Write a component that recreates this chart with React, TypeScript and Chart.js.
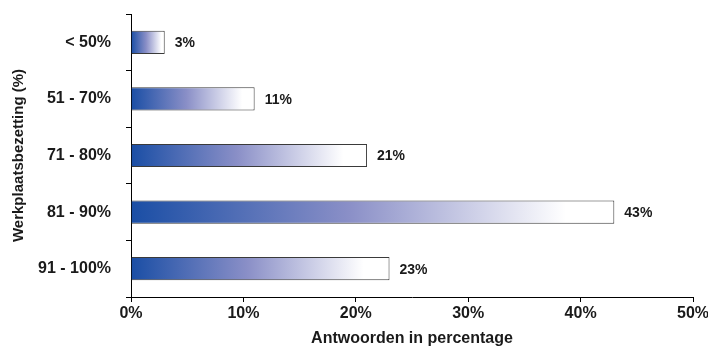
import React, { useEffect, useRef } from "react";
import { Chart, registerables, Plugin } from "chart.js";

Chart.register(...registerables);

const categories = ["< 50%", "51 - 70%", "71 - 80%", "81 - 90%", "91 - 100%"];
const shares = [3, 11, 21, 43, 23];
const xTicks = [0, 10, 20, 30, 40, 50];

const TEXT = "#1a1a1a";
const FONT = "'Liberation Sans', Arial, sans-serif";

// Writes the percentage just right of each bar's end.
const valueLabels: Plugin<"bar"> = {
  id: "valueLabels",
  afterDatasetsDraw(chart) {
    const ctx = chart.ctx;
    const meta = chart.getDatasetMeta(0);
    const data = chart.data.datasets[0].data as number[];
    ctx.save();
    ctx.font = `bold 14px ${FONT}`;
    ctx.fillStyle = TEXT;
    ctx.textAlign = "left";
    ctx.textBaseline = "middle";
    meta.data.forEach((bar: any, i: number) => {
      ctx.fillText(`${data[i]}%`, bar.x + 10, bar.y + 1);
    });
    ctx.restore();
  },
};

export default function App() {
  const canvasRef = useRef<HTMLCanvasElement | null>(null);

  useEffect(() => {
    document.body.style.margin = "0";
    const canvas = canvasRef.current;
    if (!canvas) return;

    const chart = new Chart(canvas, {
      type: "bar",
      data: {
        labels: categories,
        datasets: [
          {
            data: shares,
            backgroundColor: (c: any) => {
              const ch = c.chart;
              if (!ch.chartArea || c.type !== "data" || !ch.scales.x) return "#1c50a6";
              const xs = ch.scales.x;
              const x0 = xs.getPixelForValue(0);
              const x1 = xs.getPixelForValue(c.raw as number);
              const g = ch.ctx.createLinearGradient(x0, 0, x1, 0);
              g.addColorStop(0, "#1a4ea5");
              g.addColorStop(0.45, "#8a8fc7");
              g.addColorStop(0.9, "#ffffff");
              g.addColorStop(1, "#ffffff");
              return g;
            },
            borderColor: "#3a3a3a",
            borderWidth: 1,
            borderSkipped: "start",
            barPercentage: 0.41,
            categoryPercentage: 1,
          },
        ],
      },
      options: {
        indexAxis: "y",
        responsive: true,
        maintainAspectRatio: false,
        animation: false,
        layout: { padding: { top: 14, right: 15, left: 0, bottom: 0 } },
        plugins: {
          legend: { display: false },
          tooltip: { enabled: false },
        },
        scales: {
          x: {
            min: 0,
            max: 50,
            afterBuildTicks: (scale: any) => {
              scale.ticks = xTicks.map((v) => ({ value: v }));
            },
            afterFit: (scale: any) => {
              scale.height = 51;
              scale.paddingLeft = 0;
              scale.paddingRight = 0;
            },
            grid: {
              drawOnChartArea: false,
              drawTicks: true,
              tickLength: 5,
              color: "#000",
            },
            border: { display: true, color: "#000", width: 1 },
            ticks: {
              padding: 2,
              color: TEXT,
              font: { family: FONT, size: 16, weight: "bold" },
              callback: (v: any) => `${v}%`,
            },
            title: {
              display: true,
              text: "Antwoorden in percentage",
              color: TEXT,
              font: { family: FONT, size: 16, weight: "bold" },
              padding: { top: 0, bottom: 0 },
            },
          },
          y: {
            afterFit: (scale: any) => {
              scale.width = 131;
              scale.paddingTop = 0;
              scale.paddingBottom = 0;
            },
            grid: {
              drawOnChartArea: false,
              drawTicks: true,
              tickLength: 5,
              color: "#000",
              offset: true,
            },
            border: { display: true, color: "#000", width: 1 },
            ticks: {
              padding: 15,
              color: TEXT,
              font: { family: FONT, size: 16, weight: "bold" },
            },
            title: {
              display: true,
              text: "Werkplaatsbezetting (%)",
              color: TEXT,
              font: { family: FONT, size: 15, weight: "bold" },
              padding: { top: 10, bottom: 0 },
            },
          },
        },
      },
      plugins: [valueLabels],
    });

    return () => chart.destroy();
  }, []);

  return (
    <div style={{ position: "relative", width: 708, height: 348 }}>
      <canvas ref={canvasRef} />
    </div>
  );
}
